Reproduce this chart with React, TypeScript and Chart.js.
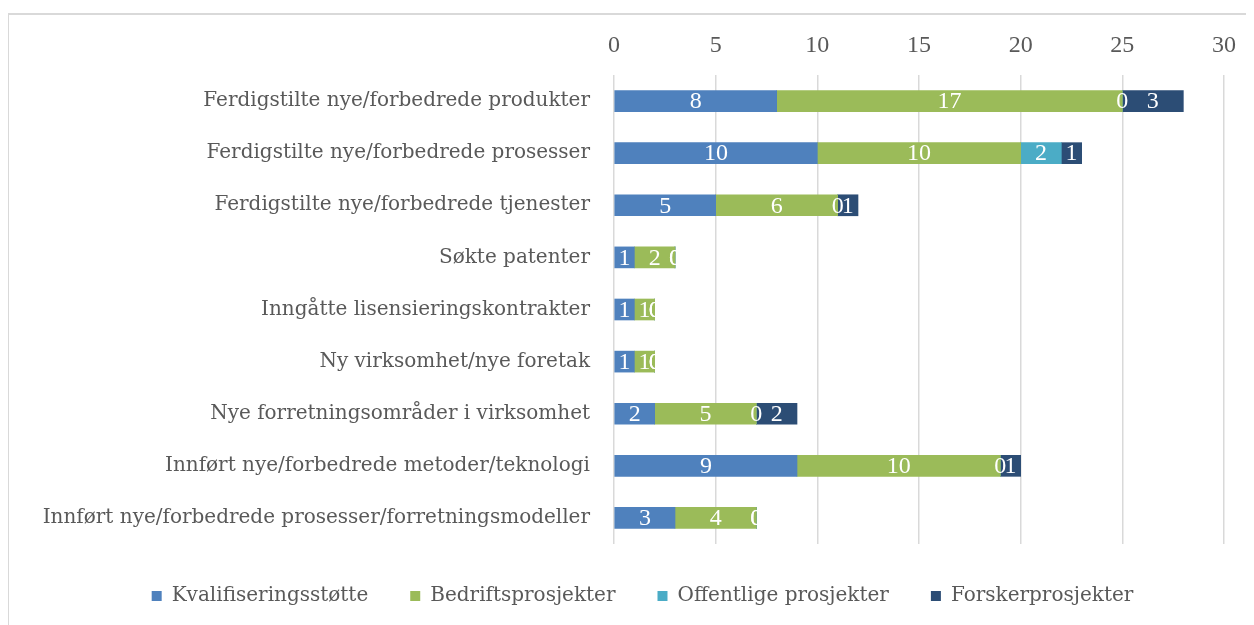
import React, { useEffect, useRef } from "react";
import { Chart, registerables } from "chart.js";

Chart.register(...registerables);

const categories = [
  "Ferdigstilte nye/forbedrede produkter",
  "Ferdigstilte nye/forbedrede prosesser",
  "Ferdigstilte nye/forbedrede tjenester",
  "Søkte patenter",
  "Inngåtte lisensieringskontrakter",
  "Ny virksomhet/nye foretak",
  "Nye forretningsområder i virksomhet",
  "Innført nye/forbedrede metoder/teknologi",
  "Innført nye/forbedrede prosesser/forretningsmodeller",
];

const kvalifiseringsstotte = [8, 10, 5, 1, 1, 1, 2, 9, 3];
const bedriftsprosjekter = [17, 10, 6, 2, 1, 1, 5, 10, 4];
const offentligeProsjekter = [0, 2, 0, 0, 0, 0, 0, 0, 0];
const forskerprosjekter = [3, 1, 1, 0, 0, 0, 2, 1, 0];

const seriesNames = [
  "Kvalifiseringsstøtte",
  "Bedriftsprosjekter",
  "Offentlige prosjekter",
  "Forskerprosjekter",
];
const seriesColors = ["#4F81BD", "#9BBB59", "#4BACC6", "#2C4D75"];

const xMin = 0;
const xMax = 30;
const xStep = 5;

const LABEL_FONT = "'DejaVu Serif', serif";
const NUM_FONT = "'Liberation Serif', serif";

const segmentLabels = {
  id: "segmentLabels",
  afterDatasetsDraw(chart: any) {
    const ctx = chart.ctx;
    ctx.save();
    ctx.font = `24px ${NUM_FONT}`;
    ctx.fillStyle = "#ffffff";
    ctx.textAlign = "center";
    ctx.textBaseline = "middle";
    chart.data.datasets.forEach((ds: any, i: number) => {
      const meta = chart.getDatasetMeta(i);
      meta.data.forEach((bar: any, j: number) => {
        const v = ds.data[j];
        const p = bar.getProps(["x", "y", "base"], true);
        ctx.fillText(String(v), (p.x + p.base) / 2, p.y + 1);
      });
    });
    ctx.restore();
  },
};

const legendShift = {
  id: "legendShift",
  afterLayout(chart: any) {
    const lg = chart.legend;
    if (lg) {
      lg.left += 26;
      lg.right += 26;
    }
  },
};

export default function App() {
  const ref = useRef<HTMLCanvasElement | null>(null);

  useEffect(() => {
    if (!ref.current) return;
    const values = [kvalifiseringsstotte, bedriftsprosjekter, offentligeProsjekter, forskerprosjekter];
    const chart = new Chart(ref.current, {
      type: "bar",
      data: {
        labels: categories,
        datasets: values.map((d, i) => ({
          label: seriesNames[i],
          data: d,
          backgroundColor: seriesColors[i],
          borderWidth: 0,
          barThickness: 21,
        })),
      },
      options: {
        indexAxis: "y",
        responsive: false,
        animation: false,
        layout: { padding: { left: 0, right: 30, top: 0, bottom: 0 } },
        plugins: {
          tooltip: { enabled: false },
          legend: {
            position: "bottom",
            labels: {
              boxWidth: 10,
              boxHeight: 10,
              padding: 42,
              color: "#595959",
              font: { family: LABEL_FONT, size: 20 },
            },
          },
        },
        scales: {
          x: {
            position: "top",
            stacked: true,
            min: xMin,
            max: xMax,
            ticks: {
              stepSize: xStep,
              color: "#595959",
              font: { family: NUM_FONT, size: 24 },
              padding: 15,
            },
            grid: { color: "#d9d9d9", lineWidth: 1.5, drawTicks: false },
            border: { display: false },
            afterFit: (s: any) => {
              s.height = 60;
            },
          },
          y: {
            stacked: true,
            ticks: {
              color: "#595959",
              font: { family: LABEL_FONT, size: 20 },
              padding: 24,
              autoSkip: false,
            },
            grid: { display: false, drawTicks: false },
            border: { display: false },
            afterFit: (s: any) => {
              s.width = 605;
            },
          },
        },
      },
      plugins: [segmentLabels, legendShift],
    } as any);
    return () => chart.destroy();
  }, []);

  return (
    <div
      style={{
        marginTop: 5,
        marginLeft: -1,
        borderLeft: "2px solid #d9d9d9",
        borderTop: "2px solid #d9d9d9",
        width: 1245,
        height: 610,
        overflow: "hidden",
        position: "relative",
      }}
    >
      <canvas ref={ref} width={1245} height={601} style={{ display: "block" }} />
    </div>
  );
}
